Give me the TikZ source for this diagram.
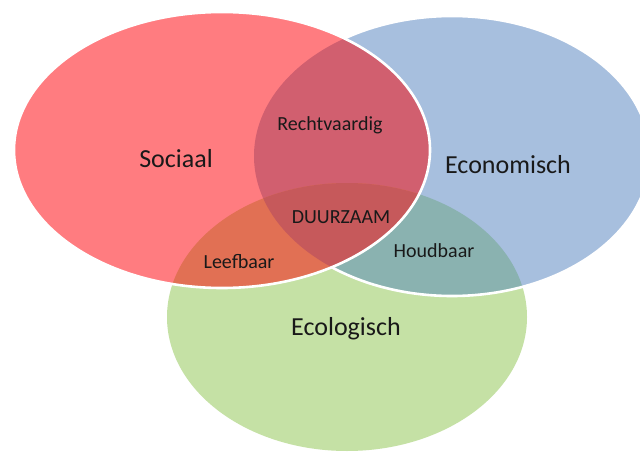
\documentclass[tikz,border=0pt]{standalone}
\usepackage{fontspec}
\setmainfont{Carlito}
\definecolor{redonly}{RGB}{255,124,128}
\definecolor{blueonly}{RGB}{167,191,222}
\definecolor{greenonly}{RGB}{197,225,165}
\definecolor{redblue}{RGB}{209,95,111}
\definecolor{redgreen}{RGB}{225,112,84}
\definecolor{bluegreen}{RGB}{138,178,176}
\definecolor{allthree}{RGB}{198,89,91}
\definecolor{txt}{RGB}{25,25,25}
\tikzset{
  outline/.style={draw=white, line width=2.6pt},
  biglabel/.style={anchor=base, text=txt, font=\fontsize{26}{30}\selectfont, inner sep=0pt},
  smalllabel/.style={anchor=base, text=txt, font=\fontsize{20}{24}\selectfont, inner sep=0pt},
}
\newcommand{\redpath}{(222,150) ellipse [x radius=208, y radius=138]}
\newcommand{\bluepath}{(452,156) ellipse [x radius=198, y radius=140]}
\newcommand{\greenpath}{(347,317) ellipse [x radius=180, y radius=134]}
\begin{document}
\begin{tikzpicture}[x=1pt,y=-1pt]
\useasboundingbox (0,0) rectangle (640,452);
\fill[white] (0,0) rectangle (640,452);
% green
\fill[greenonly] \greenpath;
% blue
\fill[blueonly] \bluepath;
\begin{scope}
  \clip \bluepath;
  \fill[bluegreen] \greenpath;
\end{scope}
\draw[outline] \bluepath;
% red
\fill[redonly] \redpath;
\begin{scope}
  \clip \redpath;
  \fill[redblue] \bluepath;
  \fill[redgreen] \greenpath;
  \clip \bluepath;
  \fill[allthree] \greenpath;
\end{scope}
\draw[outline] \redpath;
% labels
\node[biglabel] (soc) at (176,167) {Sociaal};
\node[biglabel] (eco) at (508,173) {Economisch};
\node[biglabel] (ecl) at (346,335) {Ecologisch};
\node[smalllabel] (rec) at (330,130) {Rechtvaardig};
\node[smalllabel] (duu) at (341,223) {DUURZAAM};
\node[smalllabel] (hou) at (434,257) {Houdbaar};
\node[smalllabel] (lee) at (239,268) {Leefbaar};
\end{tikzpicture}
\end{document}
